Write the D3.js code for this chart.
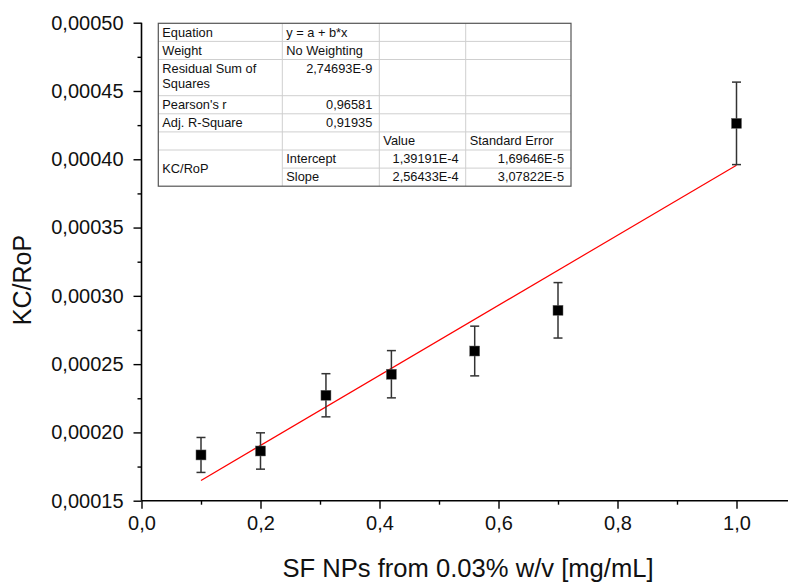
<!DOCTYPE html>
<html>
<head>
<meta charset="utf-8">
<script src="https://cdn.jsdelivr.net/npm/d3@7"></script>
<style>
  html, body { margin: 0; padding: 0; background: #fff; }
  svg { display: block; font-family: "Liberation Sans", Arial, sans-serif; }
</style>
</head>
<body>
<svg id="chart" width="788" height="585"></svg>
<script>
// Concentration of SF nanoparticles (x) and measured KC/RoP with standard deviations
const concentrations = [0.1, 0.2, 0.31, 0.42, 0.56, 0.7, 1.0];
const kcRoP = [1.835e-4, 1.864e-4, 2.272e-4, 2.426e-4, 2.596e-4, 2.894e-4, 4.263e-4];
const kcRoPError = [1.28e-5, 1.33e-5, 1.58e-5, 1.73e-5, 1.82e-5, 2.03e-5, 3.02e-5];

// Linear fit y = a + b*x
const fitIntercept = 1.39191e-4;
const fitSlope = 2.56433e-4;

// Axis ticks
const xMajorTicks = [0, 0.2, 0.4, 0.6, 0.8, 1.0];
const xMinorTicks = [0.1, 0.3, 0.5, 0.7, 0.9, 1.1];
const yMajorTicks = [0.00015, 0.00020, 0.00025, 0.00030, 0.00035, 0.00040, 0.00045, 0.00050];
const yMinorTicks = [0.000175, 0.000225, 0.000275, 0.000325, 0.000375, 0.000425, 0.000475];

// Fit statistics table
const tableStatLabels = ["Equation", "Weight", "Residual Sum of\nSquares", "Pearson's r", "Adj. R-Square"];
const tableStatValues = ["y = a + b*x", "No Weighting", "2,74693E-9", "0,96581", "0,91935"];
const tableParamHeader = ["Value", "Standard Error"];
const tableParamNames = ["Intercept", "Slope"];
const tableParamValues = ["1,39191E-4", "2,56433E-4"];
const tableParamErrors = ["1,69646E-5", "3,07822E-5"];
const tableGroupLabel = "KC/RoP";

const svg = d3.select("#chart");
const comma = s => s.replace(".", ",");

const x = d3.scaleLinear().domain([0, 1.1]).range([141.5, 796]);
const y = d3.scaleLinear().domain([0.00015, 0.0005]).range([500.7, 22.7]);

// ---- axes ----
const axisFont = "20px";
const xAxisG = svg.append("g").attr("transform", `translate(0,${y(0.00015)})`);
xAxisG.call(d3.axisBottom(x).tickValues(xMajorTicks).tickSize(8).tickPadding(7)
  .tickFormat(d => comma(d3.format(".1f")(d))));
xAxisG.append("g").call(d3.axisBottom(x).tickValues(xMinorTicks).tickSize(4).tickFormat(""))
  .select(".domain").remove();

const yAxisG = svg.append("g").attr("transform", `translate(${x(0)},0)`);
yAxisG.call(d3.axisLeft(y).tickValues(yMajorTicks).tickSize(8).tickPadding(10)
  .tickFormat(d => comma(d3.format(".5f")(d))));
yAxisG.append("g").call(d3.axisLeft(y).tickValues(yMinorTicks).tickSize(4).tickFormat(""))
  .select(".domain").remove();

svg.selectAll(".domain").attr("stroke", "#000").attr("stroke-width", 1.6);
svg.selectAll(".tick line").attr("stroke", "#000").attr("stroke-width", 1.4);
svg.selectAll(".tick text").attr("font-size", axisFont).attr("fill", "#111")
  .attr("font-family", "'Liberation Sans', Arial, sans-serif");
// plain axis lines without the outer tick stubs
xAxisG.select(".domain").attr("d", `M${x(0)},0H788`);
yAxisG.select(".domain").attr("d", `M0,${y(0.0005)}V${y(0.00015)}`);

// axis titles
svg.append("text")
  .attr("x", 468).attr("y", 577)
  .attr("text-anchor", "middle").attr("font-size", "25.6px").attr("fill", "#111")
  .text("SF NPs from 0.03% w/v [mg/mL]");
svg.append("text")
  .attr("transform", "translate(31,280) rotate(-90)")
  .attr("text-anchor", "middle").attr("font-size", "25px").attr("fill", "#111")
  .text("KC/RoP");

// ---- fit line ----
const xMin = d3.min(concentrations), xMax = d3.max(concentrations);
svg.append("line")
  .attr("x1", x(xMin)).attr("y1", y(fitIntercept + fitSlope * xMin))
  .attr("x2", x(xMax)).attr("y2", y(fitIntercept + fitSlope * xMax))
  .attr("stroke", "#ff0000").attr("stroke-width", 1.2);

// ---- error bars ----
const points = concentrations.map((c, i) => ({ c, v: kcRoP[i], e: kcRoPError[i] }));
const capHalf = 4.5;
const eb = svg.append("g").attr("stroke", "#333").attr("stroke-width", 1.5);
points.forEach(p => {
  const cx = x(p.c);
  eb.append("line").attr("x1", cx).attr("x2", cx).attr("y1", y(p.v + p.e)).attr("y2", y(p.v - p.e));
  eb.append("line").attr("x1", cx - capHalf).attr("x2", cx + capHalf).attr("y1", y(p.v + p.e)).attr("y2", y(p.v + p.e));
  eb.append("line").attr("x1", cx - capHalf).attr("x2", cx + capHalf).attr("y1", y(p.v - p.e)).attr("y2", y(p.v - p.e));
});

// ---- markers ----
const ms = 10;
svg.append("g").selectAll("rect").data(points).join("rect")
  .attr("x", d => x(d.c) - ms / 2).attr("y", d => y(d.v) - ms / 2)
  .attr("width", ms).attr("height", ms)
  .attr("fill", "#000").attr("stroke", "#666").attr("stroke-width", 0.5);

// ---- statistics table ----
const tX = 158.3, tY = 23.3;
const colW = [124, 97, 86.4, 105.3];
const rowH = 18.1;
const rowUnits = [1, 1, 2, 1, 1, 1, 1, 1];
const colX = [tX];
colW.forEach(w => colX.push(colX[colX.length - 1] + w));
const rowY = [tY];
rowUnits.forEach(u => rowY.push(rowY[rowY.length - 1] + u * rowH));
const tW = colX[4] - tX, tH = rowY[rowY.length - 1] - tY;

const tbl = svg.append("g");
tbl.append("rect").attr("x", tX).attr("y", tY).attr("width", tW).attr("height", tH)
  .attr("fill", "#fff");
const grid = tbl.append("g").attr("stroke", "#cfcfcf").attr("stroke-width", 1);
// horizontal rules (the one between Intercept and Slope skips the merged first column)
rowY.slice(1, -1).forEach((ry, i) => {
  const startX = (i === rowY.length - 3) ? colX[1] : tX;
  grid.append("line").attr("x1", startX).attr("x2", colX[4]).attr("y1", ry).attr("y2", ry);
});
colX.slice(1, -1).forEach(cx => {
  grid.append("line").attr("x1", cx).attr("x2", cx).attr("y1", tY).attr("y2", tY + tH);
});
tbl.append("rect").attr("x", tX).attr("y", tY).attr("width", tW).attr("height", tH)
  .attr("fill", "none").attr("stroke", "#555").attr("stroke-width", 1.2);

const tfs = "12.8px";
const padL = 4, padR = 7, baseOff = 13.2;
function cellText(txt, col, row, align) {
  const tx = align === "end" ? colX[col + 1] - padR : colX[col] + padL;
  const lines = txt.split("\n");
  lines.forEach((ln, k) => {
    tbl.append("text").attr("x", tx).attr("y", rowY[row] + baseOff + k * 15.5)
      .attr("text-anchor", align).attr("font-size", tfs).attr("fill", "#111").text(ln);
  });
}
tableStatLabels.forEach((t, i) => cellText(t, 0, i, "start"));
tableStatValues.forEach((t, i) => cellText(t, 1, i, i < 2 ? "start" : "end"));
tableParamHeader.forEach((t, i) => cellText(t, 2 + i, 5, "start"));
tableParamNames.forEach((t, i) => cellText(t, 1, 6 + i, "start"));
tableParamValues.forEach((t, i) => cellText(t, 2, 6 + i, "end"));
tableParamErrors.forEach((t, i) => cellText(t, 3, 6 + i, "end"));
tbl.append("text").attr("x", colX[0] + padL).attr("y", rowY[6] + rowH + 4.5)
  .attr("font-size", tfs).attr("fill", "#111").text(tableGroupLabel);
</script>
</body>
</html>
